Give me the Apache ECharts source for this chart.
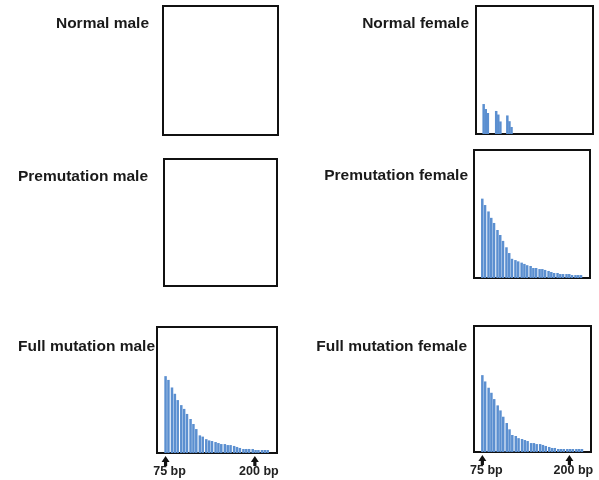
<!DOCTYPE html>
<html><head><meta charset="utf-8">
<script src="https://cdn.jsdelivr.net/npm/echarts@6/dist/echarts.min.js"></script>
<style>html,body{margin:0;padding:0;background:#fff}#c{width:599px;height:480px}</style>
</head><body><div id="c"></div>
<script>
// ---- data ----
const panelTitles = ['Normal male','Normal female','Premutation male','Premutation female','Full mutation male','Full mutation female'];
// fragment sizes (bp) of the peaks
const peakBp = [75,79,84,88,92,97,101,105,110,114,118,123,127,132,136,140,145,149,153,158,162,166,171,175,179,184,188,192,197,201,205,210,214,218];
const normalMale = [];
const premutationMale = [];
const normalFemaleBp = [74,77,80,92,95,98,108,111,114];
const normalFemale = [23.4,19.5,16.4,18,15.2,9.8,14.5,10,5.5];
const premutationFemale = [62,57,52,47,43,37.5,33.6,29,24,19.5,15,14,13,12,11,10,9.4,7.8,7.8,7,7,6.3,5.5,4.7,3.9,3.9,3.1,3.1,3.1,3.1,2.3,2.3,2.3,2.3];
const fullMale = [61,58,52,47,42,38,35,31,27,23,19,14,13,11,10,9.5,8.7,7.9,7.1,7.1,6.3,6.3,5.6,4.8,4,3.2,3.2,3.2,3.2,2.4,2.4,2.4,2.4,2.4];
const fullFemale = [61,56,51,47,42,37,33,28,23,18,13.5,12.7,11,10.3,9.5,8.7,7.1,7.1,6.3,6.3,5.6,4.8,4,3.2,3.2,2.4,2.4,2.4,2.4,2.4,2.4,2.4,2.4,2.4];
const tickValues = [75, 200];
const tickLabels = ['75 bp', '200 bp'];

// ---- layout ----
const boxes = [
  {left:163, top:6,   width:115, height:129, tx:149, ty:25},
  {left:476, top:6,   width:117, height:128, tx:469, ty:25},
  {left:164, top:159, width:113, height:127, tx:148, ty:178},
  {left:474, top:150, width:116, height:128, tx:468, ty:177},
  {left:157, top:327, width:120, height:126, tx:155, ty:348},
  {left:474, top:326, width:117, height:126, tx:467, ty:348}
];
const seriesData = [
  {bp: peakBp, v: normalMale},
  {bp: normalFemaleBp, v: normalFemale},
  {bp: peakBp, v: premutationMale},
  {bp: peakBp, v: premutationFemale},
  {bp: peakBp, v: fullMale},
  {bp: peakBp, v: fullFemale}
];
const zip = (a, b) => b.map((y, i) => [a[i], y]);
const arrowPath = 'path://M5,0 L10,6 L7,6 L7,10 L3,10 L3,6 L0,6 Z';

const chart = echarts.init(document.getElementById('c'), null, {renderer:'canvas'});
const option = {
  backgroundColor:'#fff',
  animation:false,
  grid: boxes.map(b => ({left:b.left, top:b.top, width:b.width, height:b.height,
     show:true, borderColor:'#111', borderWidth:2, backgroundColor:'rgba(0,0,0,0)', containLabel:false})),
  xAxis: boxes.map((b, i) => ({
    type:'value', gridIndex:i, min:63, max:231,
    axisLine:{show:false}, axisTick:{show:false}, splitLine:{show:false},
    axisLabel: i >= 4 ? {
      show:true, customValues: tickValues, margin:12,
      formatter: v => tickLabels[tickValues.indexOf(v)],
      fontSize:12.5, fontWeight:'bold', color:'#222', fontFamily:'Liberation Sans, Arial',
      padding:[0,0,0,8]
    } : {show:false}
  })),
  yAxis: boxes.map((b, i) => ({type:'value', gridIndex:i, min:0, max:100, show:false})),
  series: seriesData.map((s, i) => ({
    type:'bar', xAxisIndex:i, yAxisIndex:i, barWidth:2.5,
    itemStyle:{color:'#5b8fd0'},
    data: zip(s.bp, s.v),
    markPoint: i >= 4 ? {
      symbol: arrowPath, symbolSize:[8,10], symbolOffset:[0,8],
      itemStyle:{color:'#111'}, label:{show:false}, silent:true,
      data: tickValues.map(t => ({coord:[t, 0]}))
    } : undefined
  })),
  graphic: boxes.map((b, i) => ({
    type:'text', right: 599 - b.tx, top: b.ty - 9,
    style:{text: panelTitles[i], font:'bold 15.5px "Liberation Sans", Arial, sans-serif', fill:'#1a1a1a'}
  }))
};
chart.setOption(option);
</script></body></html>
